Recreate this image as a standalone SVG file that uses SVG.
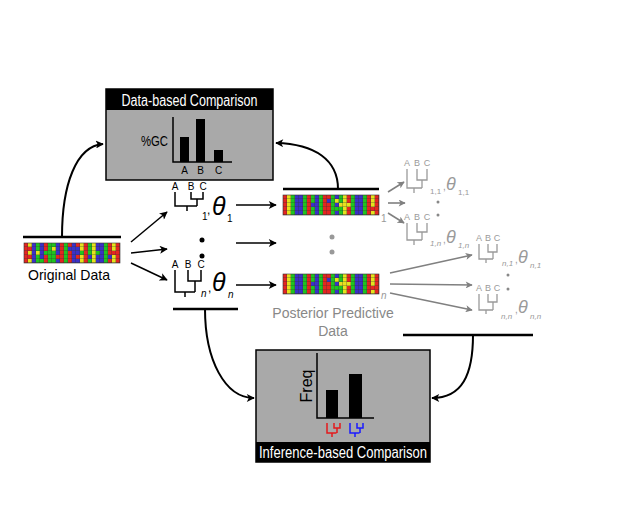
<svg xmlns="http://www.w3.org/2000/svg" xmlns:xlink="http://www.w3.org/1999/xlink" width="621" height="530" viewBox="0 0 621 530">
<style>
text{font-family:"Liberation Sans",Arial,sans-serif}
.r{fill:#e52521}.g{fill:#1fc41f}.b{fill:#3b30c8}.y{fill:#e6e21e}
.ln{stroke:#000;stroke-width:2;fill:none}
.bar{stroke:#000;stroke-width:2.5;fill:none}
.gl{stroke:#808080;stroke-width:1.6;fill:none}
.tr{stroke:#000;stroke-width:1.5;fill:none}
.tg{stroke:#9a9a9a;stroke-width:1.3;fill:none}
.lab{font-size:10px;fill:#000}
.glab{font-size:9px;fill:#9a9a9a}
.th{font-size:25px;fill:#000;font-style:italic}
.gth{font-size:18px;fill:#9a9a9a;font-style:italic}
.sub{font-size:10px;fill:#000}
.gsub{font-size:8px;fill:#9a9a9a}
.box{fill:#a9a9a9;stroke:#000;stroke-width:1.5}
</style>
<defs>
<marker id="ah" viewBox="0 0 10 10" refX="9" refY="5" markerWidth="9" markerHeight="8" markerUnits="userSpaceOnUse" orient="auto"><path d="M0,0 L10,5 L0,10 L2.5,5 z" fill="#000"/></marker>
<marker id="ahg" viewBox="0 0 10 10" refX="9" refY="5" markerWidth="8" markerHeight="7" markerUnits="userSpaceOnUse" orient="auto"><path d="M0,0 L10,5 L0,10 L2.5,5 z" fill="#808080"/></marker>
<pattern id="grid" width="4" height="4" patternUnits="userSpaceOnUse"><path d="M4,0 V4 H0" stroke="#333" stroke-width="0.6" fill="none"/></pattern>
<g id="pp">
<rect class="r" x="0" width="4" height="20"/><rect class="y" x="4" width="4" height="20"/><rect class="g" x="8" width="4" height="20"/><rect class="b" x="12" width="4" height="20"/><rect class="b" x="16" width="4" height="20"/><rect class="g" x="20" width="4" height="20"/><rect class="r" x="24" width="4" height="20"/><rect class="g" x="28" width="4" height="20"/><rect class="b" x="32" width="4" height="20"/><rect class="g" x="36" width="4" height="20"/><rect class="r" x="40" width="4" height="20"/><rect class="r" x="44" width="4" height="20"/><rect class="g" x="48" width="4" height="20"/><rect class="b" x="52" width="4" height="20"/><rect class="g" x="56" width="4" height="20"/><rect class="y" x="60" width="4" height="20"/><rect class="r" x="64" width="4" height="20"/><rect class="g" x="68" width="4" height="20"/><rect class="b" x="72" width="4" height="20"/><rect class="b" x="76" width="4" height="20"/><rect class="g" x="80" width="4" height="20"/><rect class="r" x="84" width="4" height="20"/><rect class="y" x="88" width="4" height="20"/><rect class="r" x="92" width="4" height="20"/>
<rect class="b" x="44" y="4" width="4" height="4"/><rect class="y" x="52" y="4" width="4" height="4"/><rect class="g" x="52" y="12" width="4" height="4"/><rect class="y" x="56" y="8" width="4" height="4"/><rect class="y" x="64" y="8" width="4" height="4"/><rect class="r" x="88" y="12" width="4" height="4"/><rect class="y" x="4" y="16" width="4" height="4"/><rect class="b" x="28" y="8" width="4" height="4"/>
<rect width="96" height="20" fill="url(#grid)"/><rect width="96" height="20" fill="none" stroke="#333" stroke-width="0.6"/>
</g>
</defs>

<g id="original-data">
<path class="bar" d="M23,237 H121"/>
<g transform="translate(24,243)">
<rect class="r" x="0" width="4" height="20"/><rect class="r" x="4" width="4" height="20"/><rect class="b" x="8" width="4" height="20"/><rect class="g" x="12" width="4" height="20"/><rect class="b" x="16" width="4" height="20"/><rect class="r" x="20" width="4" height="20"/><rect class="g" x="24" width="4" height="20"/><rect class="g" x="28" width="4" height="20"/><rect class="b" x="32" width="4" height="20"/><rect class="r" x="36" width="4" height="20"/><rect class="g" x="40" width="4" height="20"/><rect class="r" x="44" width="4" height="20"/><rect class="b" x="48" width="4" height="20"/><rect class="b" x="52" width="4" height="20"/><rect class="y" x="56" width="4" height="20"/><rect class="r" x="60" width="4" height="20"/><rect class="g" x="64" width="4" height="20"/><rect class="y" x="68" width="4" height="20"/><rect class="b" x="72" width="4" height="20"/><rect class="b" x="76" width="4" height="20"/><rect class="g" x="80" width="4" height="20"/><rect class="r" x="84" width="4" height="20"/><rect class="y" x="88" width="4" height="20"/><rect class="r" x="92" width="4" height="20"/>
<rect class="y" x="4" y="0" width="4" height="4"/><rect class="y" x="4" y="8" width="4" height="4"/><rect class="y" x="4" y="16" width="4" height="4"/><rect class="y" x="12" y="8" width="4" height="4"/><rect class="g" x="16" y="16" width="4" height="4"/><rect class="g" x="20" y="8" width="4" height="4"/><rect class="y" x="28" y="4" width="4" height="4"/><rect class="r" x="32" y="12" width="4" height="4"/><rect class="b" x="44" y="4" width="4" height="4"/><rect class="r" x="52" y="0" width="4" height="4"/><rect class="r" x="52" y="12" width="4" height="4"/><rect class="g" x="56" y="8" width="4" height="4"/><rect class="b" x="64" y="12" width="4" height="4"/><rect class="g" x="72" y="8" width="4" height="4"/><rect class="b" x="84" y="12" width="4" height="4"/><rect class="r" x="88" y="8" width="4" height="4"/>
<rect width="96" height="20" fill="url(#grid)"/><rect width="96" height="20" fill="none" stroke="#333" stroke-width="0.6"/>
</g>
<text x="69" y="280" font-size="15" text-anchor="middle" textLength="82" lengthAdjust="spacingAndGlyphs">Original Data</text>
</g>

<g id="data-based-comparison">
<rect class="box" x="106" y="89" width="167" height="91"/>
<rect x="106" y="89" width="167" height="21" fill="#000"/>
<text x="189.5" y="105.5" font-size="16" fill="#fff" text-anchor="middle" textLength="136" lengthAdjust="spacingAndGlyphs">Data-based Comparison</text>
<path d="M173,117 V162 H232" stroke="#000" stroke-width="1.5" fill="none"/>
<rect x="180" y="137" width="9" height="25" fill="#000"/>
<rect x="196" y="119" width="9" height="43" fill="#000"/>
<rect x="214" y="150" width="9" height="12" fill="#000"/>
<text x="168" y="146" font-size="14" text-anchor="end" textLength="27" lengthAdjust="spacingAndGlyphs">%GC</text>
<text x="184.5" y="174" class="lab" text-anchor="middle" font-size="9">A</text>
<text x="200.5" y="174" class="lab" text-anchor="middle" font-size="9">B</text>
<text x="218.5" y="174" class="lab" text-anchor="middle" font-size="9">C</text>
</g>

<g id="tree-1">
<text x="175" y="190" class="lab" text-anchor="middle">A</text>
<text x="191" y="190" class="lab" text-anchor="middle">B</text>
<text x="203" y="190" class="lab" text-anchor="middle">C</text>
<path class="tr" d="M175,192 V206 H197 M191,192 V199 H203 V192 M197,199 V206 M187,206 V211"/>
<text x="202" y="220" class="sub">1</text>
<text x="207" y="214" font-size="12">,</text>
<text x="212" y="215" class="th">θ</text>
<text x="227" y="222" class="sub" font-size="11">1</text>
</g>

<g id="tree-dots">
<circle cx="202" cy="240" r="2.5" fill="#000"/>
<circle cx="202" cy="256" r="2.5" fill="#000"/>
</g>

<g id="tree-n">
<text x="175" y="268" class="lab" text-anchor="middle">A</text>
<text x="188" y="268" class="lab" text-anchor="middle">B</text>
<text x="201" y="268" class="lab" text-anchor="middle">C</text>
<path class="tr" d="M175,270 V292 H195 M188,270 V281 H201 V270 M195,281 V292 M185,292 V297"/>
<text x="201" y="297" class="sub" font-style="italic">n</text>
<text x="208" y="292" font-size="12">,</text>
<text x="212" y="291" class="th">θ</text>
<text x="228" y="298" class="sub" font-size="11" font-style="italic">n</text>
<path class="bar" d="M173,309 H238"/>
</g>

<g id="posterior-1">
<path class="bar" d="M283,189 H379"/>
<use xlink:href="#pp" href="#pp" transform="translate(283,195)"/>
<text x="381" y="222" font-size="10" fill="#999">1</text>
</g>

<g id="posterior-dots">
<circle cx="332" cy="237" r="2.5" fill="#999"/>
<circle cx="332" cy="252" r="2.5" fill="#999"/>
</g>

<g id="posterior-n">
<use xlink:href="#pp" href="#pp" transform="translate(283,274)"/>
<text x="381" y="299" font-size="10" fill="#999" font-style="italic">n</text>
<text x="333" y="318" font-size="14" fill="#888" text-anchor="middle">Posterior Predictive</text>
<text x="333" y="336" font-size="14" fill="#888" text-anchor="middle">Data</text>
</g>

<g id="tree-1-1">
<text x="407" y="166" class="glab" text-anchor="middle">A</text>
<text x="417" y="166" class="glab" text-anchor="middle">B</text>
<text x="427" y="166" class="glab" text-anchor="middle">C</text>
<path class="tg" d="M407,169 V188 H422 M417,169 V180 H427 V169 M422,180 V188 M414,188 V193"/>
<text x="430" y="194" class="gsub">1,1</text>
<text x="443" y="190" font-size="10" fill="#9a9a9a">,</text>
<text x="446" y="190" class="gth">θ</text>
<text x="458" y="195" class="gsub">1,1</text>
</g>

<g id="tree-dots-1">
<circle cx="438" cy="202" r="1.5" fill="#888"/>
<circle cx="438" cy="215" r="1.5" fill="#888"/>
</g>

<g id="tree-1-n">
<text x="407" y="220" class="glab" text-anchor="middle">A</text>
<text x="417" y="220" class="glab" text-anchor="middle">B</text>
<text x="427" y="220" class="glab" text-anchor="middle">C</text>
<path class="tg" d="M407,223 V240 H422 M417,223 V232 H427 V223 M422,232 V240 M414,240 V245"/>
<text x="430" y="246" class="gsub" font-style="italic">1,n</text>
<text x="443" y="243" font-size="10" fill="#9a9a9a">,</text>
<text x="446" y="243" class="gth">θ</text>
<text x="458" y="248" class="gsub" font-style="italic">1,n</text>
</g>

<g id="tree-n-1">
<text x="479" y="241" class="glab" text-anchor="middle">A</text>
<text x="488" y="241" class="glab" text-anchor="middle">B</text>
<text x="497" y="241" class="glab" text-anchor="middle">C</text>
<path class="tg" d="M479,244 V259 H493 M488,244 V252 H497 V244 M493,252 V259 M486,259 V263"/>
<text x="502" y="266" class="gsub" font-style="italic">n,1</text>
<text x="515" y="263" font-size="10" fill="#9a9a9a">,</text>
<text x="518" y="263" class="gth">θ</text>
<text x="530" y="268" class="gsub" font-style="italic">n,1</text>
</g>

<g id="tree-dots-n">
<circle cx="508" cy="275" r="1.5" fill="#888"/>
<circle cx="508" cy="289" r="1.5" fill="#888"/>
</g>

<g id="tree-n-n">
<text x="479" y="291" class="glab" text-anchor="middle">A</text>
<text x="488" y="291" class="glab" text-anchor="middle">B</text>
<text x="497" y="291" class="glab" text-anchor="middle">C</text>
<path class="tg" d="M479,294 V310 H493 M488,294 V302 H497 V294 M493,302 V310 M486,310 V314"/>
<text x="501" y="319" class="gsub" font-style="italic">n,n</text>
<text x="515" y="313" font-size="10" fill="#9a9a9a">,</text>
<text x="518" y="313" class="gth">θ</text>
<text x="530" y="319" class="gsub" font-style="italic">n,n</text>
<path class="bar" d="M403,335 H533"/>
</g>

<g id="inference-based-comparison">
<rect class="box" x="256" y="350" width="174" height="112"/>
<rect x="256" y="442" width="174" height="20" fill="#000"/>
<text x="343" y="458" font-size="16" fill="#fff" text-anchor="middle" textLength="168" lengthAdjust="spacingAndGlyphs">Inference-based Comparison</text>
<path d="M317,353 V418 H374" stroke="#000" stroke-width="1.5" fill="none"/>
<rect x="326" y="390" width="12" height="28" fill="#000"/>
<rect x="349" y="374" width="13" height="44" fill="#000"/>
<text transform="translate(312,386) rotate(-90)" font-size="16" text-anchor="middle">Freq</text>
<path d="M327,423 V433 H336.5 M334,423 V428 H340 V423 M337,428 V433 M332,433 V437" stroke="#e41a1c" stroke-width="1.5" fill="none"/>
<path d="M350,423 V433 H359.5 M357,423 V428 H363 V423 M360,428 V433 M355,433 V437" stroke="#1a1aff" stroke-width="1.5" fill="none"/>
</g>

<g id="connectors">
<path class="ln" d="M62,237 C62,185 76,146 103,144" marker-end="url(#ah)"/>
<path class="ln" d="M338,189 C338,160 315,144 276,143" marker-end="url(#ah)"/>
<path class="ln" d="M205,309 C205,360 225,398 254,398" marker-end="url(#ah)"/>
<path class="ln" d="M473,335 C473,375 462,398 432,398" marker-end="url(#ah)"/>
<path class="tr" d="M131,242 L167,212" marker-end="url(#ah)"/>
<path class="tr" d="M131,253 L167,249" marker-end="url(#ah)"/>
<path class="tr" d="M131,263 L167,280" marker-end="url(#ah)"/>
<path class="tr" d="M236,205 H276" marker-end="url(#ah)"/>
<path class="tr" d="M236,243 H276" marker-end="url(#ah)"/>
<path class="tr" d="M236,285 H276" marker-end="url(#ah)"/>
<path class="gl" d="M388,192 L404,182" marker-end="url(#ahg)"/>
<path class="gl" d="M388,203 H405" marker-end="url(#ahg)"/>
<path class="gl" d="M388,213 L404,223" marker-end="url(#ahg)"/>
<path class="gl" d="M390,273 L472,255" marker-end="url(#ahg)"/>
<path class="gl" d="M390,284 L472,285" marker-end="url(#ahg)"/>
<path class="gl" d="M390,293 L472,310" marker-end="url(#ahg)"/>
</g>
</svg>
